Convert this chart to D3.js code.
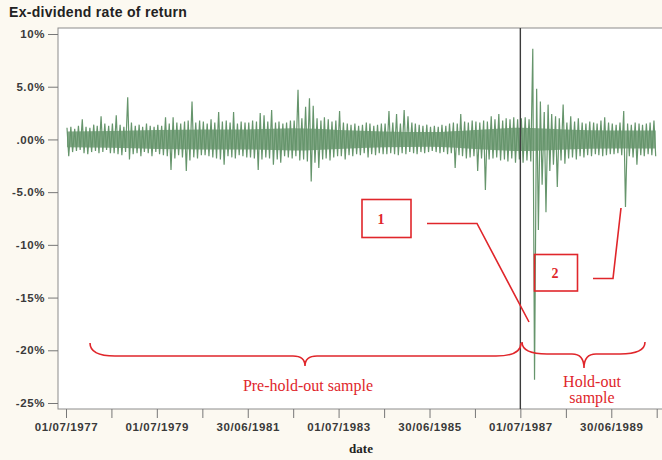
<!DOCTYPE html>
<html>
<head>
<meta charset="utf-8">
<script src="https://cdn.jsdelivr.net/npm/d3@7"></script>
<style>
  html, body { margin: 0; padding: 0; background: #fcf9f1; }
  svg { display: block; }
  .tick text { font-family: "Liberation Sans", Arial, sans-serif; font-weight: bold; font-size: 11.5px; fill: #3a3a3a; letter-spacing: 0.6px; }
</style>
</head>
<body>
<svg id="chart" width="662" height="460"></svg>
<script>
"use strict";

// monthly high / low of the daily ex-dividend return (%), Jul 1977 .. Jun 1990
const startYear = 1977, startMonth = 6;   // July 1977
const monthHigh = [
  1.1, 1.2, 1.0, 1.3, 1.9, 1.2, 1.1, 1.4, 1.3, 2.2, 1.5, 1.3,
  1.5, 2.3, 1.4, 1.2, 4.0, 1.6, 1.3, 1.4, 1.2, 1.5, 1.3, 1.2,
  1.4, 1.3, 2.1, 1.5, 2.1, 1.6, 1.5, 1.7, 1.8, 3.6, 1.6, 1.8,
  1.7, 1.5, 1.9, 1.6, 2.6, 1.7, 1.8, 1.6, 2.6, 1.5, 1.7, 1.6,
  1.6, 1.8, 1.7, 2.5, 2.3, 1.7, 2.8, 1.6, 1.7, 1.5, 1.6, 1.8,
  1.8, 4.7, 2.0, 3.1, 3.9, 3.2, 2.0, 1.8, 2.1, 1.9, 1.7, 1.8,
  2.7, 1.6, 1.5, 1.4, 1.5, 1.3, 1.4, 1.6, 1.5, 1.3, 1.4, 1.5,
  1.5, 2.7, 1.6, 2.4, 1.5, 2.8, 2.2, 1.6, 1.5, 1.4, 1.3, 1.4,
  1.2, 1.3, 1.2, 1.4, 1.3, 1.5, 1.6, 1.5, 2.4, 1.7, 1.6, 1.8,
  1.7, 1.6, 1.8, 1.7, 2.2, 1.9, 2.4, 1.8, 2.0, 1.9, 2.1, 1.9,
  2.0, 2.1, 1.9, 8.6, 4.8, 3.6, 2.6, 3.3, 2.4, 2.2, 2.0, 3.3,
  1.6, 2.2, 1.7, 2.0, 1.6, 1.5, 1.7, 1.6, 1.5, 1.8, 2.1, 1.6,
  1.5, 1.4, 1.6, 2.7, 1.5, 1.4, 1.6, 1.5, 1.4, 1.5, 1.6, 1.8
];
const monthLow = [
  -1.6, -1.2, -1.1, -1.0, -1.3, -1.4, -1.2, -1.1, -1.3, -1.2, -1.0, -1.3,
  -1.3, -1.4, -1.5, -1.2, -1.9, -1.4, -1.3, -1.6, -1.2, -1.3, -1.6, -1.2,
  -1.4, -1.5, -1.6, -2.9, -1.8, -1.5, -1.7, -3.0, -2.0, -1.7, -1.8, -1.5,
  -1.5, -1.6, -1.7, -1.8, -1.9, -2.4, -1.6, -1.7, -1.8, -1.5, -1.6, -1.7,
  -1.7, -1.8, -2.9, -1.9, -1.7, -1.8, -2.4, -1.9, -2.2, -1.6, -1.7, -1.8,
  -1.6, -2.0, -1.9, -2.1, -4.0, -2.2, -2.7, -1.9, -1.8, -2.0, -1.7, -1.6,
  -1.6, -1.9, -1.5, -1.6, -1.4, -1.5, -1.3, -1.7, -1.4, -1.5, -1.3, -1.4,
  -1.4, -1.3, -1.4, -1.5, -1.3, -1.4, -1.2, -1.3, -1.4, -1.2, -1.3, -1.2,
  -1.1, -1.2, -1.3, -1.2, -1.4, -1.3, -2.7, -1.5, -1.6, -1.8, -1.7, -1.6,
  -3.0, -1.8, -4.8, -1.9, -1.8, -1.7, -2.0, -1.9, -2.1, -1.8, -2.2, -1.9,
  -2.2, -2.0, -2.1, -22.8, -8.6, -4.3, -6.9, -3.0, -2.4, -4.5, -2.0, -2.3,
  -1.8, -1.7, -1.9, -1.6, -1.7, -1.5, -1.6, -1.4, -1.5, -1.6, -1.5, -1.4,
  -1.4, -1.3, -1.5, -6.4, -1.6, -1.7, -2.4, -1.5, -1.6, -1.4, -1.5, -1.6
];

// dense core of the daily returns, half-width in % per calendar year 1977..1990
const coreYears = d3.range(1977, 1991);
const coreHalf  = [0.75, 0.8, 0.9, 0.95, 0.95, 1.05, 0.9, 0.75, 0.7, 0.9, 1.1, 0.95, 0.85, 0.85];

const yTicks  = [10, 5, 0, -5, -10, -15, -20, -25];
const yLabels = ["10%", "5.0%", ".00%", "-5.0%", "-10%", "-15%", "-20%", "-25%"];

const xTickDates  = d3.range(1977, 1991).map(y => new Date(y, 6, 1));
const xTickLabels = ["01/07/1977", "", "01/07/1979", "", "30/06/1981", "", "01/07/1983", "",
                     "30/06/1985", "", "01/07/1987", "", "30/06/1989", ""];

const holdOutStart = new Date(1987, 6, 1);

// layout
const plot = { left: 58, top: 28, right: 672, bottom: 409 };
const red = "#e0262b";
const green = "#66956c";

const svg = d3.select("#chart");

const x = d3.scaleTime()
  .domain([new Date(1977, 6, 1), new Date(1990, 6, 1)])
  .range([66, 656.7]);

const y = d3.scaleLinear()
  .domain([-25, 10])
  .range([403, 34]);

// title
svg.append("text")
  .attr("x", 9).attr("y", 17)
  .style("font-family", "'Liberation Sans', Arial, sans-serif")
  .style("font-weight", "bold").style("font-size", "14px")
  .style("letter-spacing", "0.3px")
  .style("fill", "#222")
  .text("Ex-dividend rate of return");

// plot background / frame
svg.append("rect")
  .attr("x", plot.left).attr("y", plot.top)
  .attr("width", plot.right - plot.left).attr("height", plot.bottom - plot.top)
  .attr("fill", "#fff").attr("stroke", "#8c8c8c").attr("stroke-width", 1);

// series
const points = [];
monthHigh.forEach((h, i) => {
  points.push({ d: new Date(startYear, startMonth + i, 9),  v: h });
  points.push({ d: new Date(startYear, startMonth + i, 23), v: monthLow[i] });
});

const first = points[0].d, last = points[points.length - 1].d;
const core = coreYears.map((yr, i) => {
  let d = new Date(yr, 6, 1);
  if (d < first) d = first;
  if (d > last) d = last;
  return { d: d, h: coreHalf[i] };
});

svg.append("path")
  .datum(core)
  .attr("d", d3.area()
    .curve(d3.curveMonotoneX)
    .x(p => x(p.d))
    .y0(p => y(-p.h))
    .y1(p => y(p.h)))
  .attr("fill", green)
  .attr("fill-opacity", 0.8);

svg.append("path")
  .datum(points)
  .attr("d", d3.line().x(p => x(p.d)).y(p => y(p.v)))
  .attr("fill", "none")
  .attr("stroke", green)
  .attr("stroke-width", 1.2)
  .attr("stroke-linejoin", "bevel");

// hold-out divider
svg.append("line")
  .attr("x1", x(holdOutStart)).attr("x2", x(holdOutStart))
  .attr("y1", plot.top).attr("y2", plot.bottom)
  .attr("stroke", "#3c3c3c").attr("stroke-width", 1.4);

// axes
const yAxis = d3.axisLeft(y)
  .tickValues(yTicks)
  .tickFormat((d, i) => yLabels[i])
  .tickSize(10).tickPadding(3);

svg.append("g")
  .attr("transform", "translate(" + plot.left + ",0)")
  .call(yAxis)
  .call(g => g.select(".domain").remove())
  .call(g => g.selectAll(".tick line").attr("stroke", "#777"));

const xAxis = d3.axisBottom(x)
  .tickValues(xTickDates)
  .tickFormat((d, i) => xTickLabels[i])
  .tickSize(9).tickPadding(5);

svg.append("g")
  .attr("transform", "translate(0," + plot.bottom + ")")
  .call(xAxis)
  .call(g => g.select(".domain").remove())
  .call(g => g.selectAll(".tick line").attr("stroke", "#777"));

svg.append("text")
  .attr("x", 361).attr("y", 453)
  .attr("text-anchor", "middle")
  .style("font-family", "'Liberation Serif', 'Times New Roman', serif")
  .style("font-weight", "bold").style("font-size", "13px")
  .style("fill", "#222")
  .text("date");

// annotations
const ann = svg.append("g")
  .attr("fill", "none").attr("stroke", red).attr("stroke-width", 1.6);

function brace(x0, x1, xm, yEnd, yBar, yTip) {
  return "M" + x0 + "," + yEnd +
    " Q" + x0 + "," + yBar + " " + (x0 + 25) + "," + yBar +
    " L" + (xm - 12) + "," + yBar +
    " Q" + xm + "," + yBar + " " + xm + "," + yTip +
    " Q" + xm + "," + yBar + " " + (xm + 12) + "," + yBar +
    " L" + (x1 - 25) + "," + yBar +
    " Q" + x1 + "," + yBar + " " + x1 + "," + yEnd;
}

ann.append("path").attr("d", brace(90, 521, 305, 343, 356, 366));
ann.append("path").attr("d", brace(522, 645, 584, 342, 354, 368));

ann.append("rect").attr("x", 362).attr("y", 199.5).attr("width", 49).attr("height", 38);
ann.append("path").attr("d", "M427,223.5 L477,223.5 L529,322");
ann.append("rect").attr("x", 534.5).attr("y", 254.5).attr("width", 43).attr("height", 36.5);
ann.append("path").attr("d", "M593,278.5 L613,278.5 L621,208");

const labelStyle = sel => sel
  .attr("text-anchor", "middle")
  .style("font-family", "'Liberation Serif', 'Times New Roman', serif")
  .style("fill", red);

svg.append("text").attr("x", 381).attr("y", 224).call(labelStyle)
  .style("font-weight", "bold").style("font-size", "14px").text("1");
svg.append("text").attr("x", 555).attr("y", 278).call(labelStyle)
  .style("font-weight", "bold").style("font-size", "14px").text("2");

svg.append("text").attr("x", 308).attr("y", 391).call(labelStyle)
  .style("font-size", "16px").text("Pre-hold-out sample");
svg.append("text").attr("x", 592).attr("y", 387).call(labelStyle)
  .style("font-size", "16px").text("Hold-out");
svg.append("text").attr("x", 592).attr("y", 403).call(labelStyle)
  .style("font-size", "16px").text("sample");
</script>
</body>
</html>
